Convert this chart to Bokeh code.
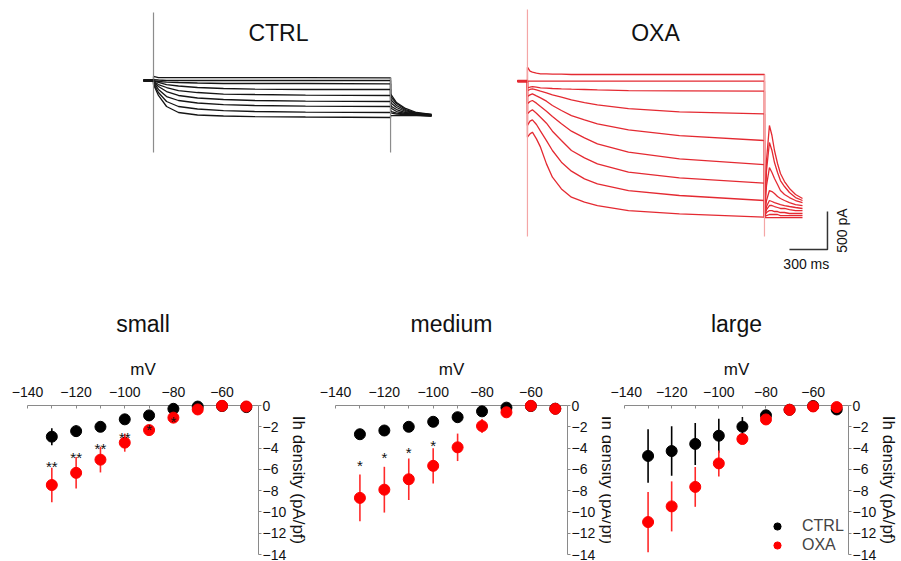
from bokeh.plotting import figure
from bokeh.models import ColumnDataSource, Label, FixedTicker, Legend, LegendItem, Range1d
from bokeh.layouts import row, column
from bokeh.embed import file_html
from bokeh.resources import INLINE
from bokeh.core.properties import value
import math

FONT = "Liberation Sans"

# ---------------- current traces (time in ms, current in pA) ----------------
hold_t = [-79, 0]
ctrl_hold = 0
oxa_hold = -9
ctrl_step_t = [0, 39, 103, 197, 347, 552, 797, 1199, 1870]
ctrl_tail_t = [1870, 1878, 1917, 1988, 2075, 2193]
oxa_step_t = [0, 20, 39, 71, 103, 150, 197, 268, 347, 450, 552, 797, 1199, 1870]
oxa_tail_t = [1870, 1886, 1909, 1929, 1949, 1973, 1996, 2028, 2067, 2115, 2170]

ctrl_step = [
    [53, 39, 39, 39, 39, 39, 39, 39, 36],
    [13, 7, 0, 0, 0, 0, 0, 0, 0],
    [0, -13, -20, -26, -33, -39, -39, -39, -43],
    [-7, -26, -53, -72, -92, -105, -112, -118, -118],
    [-13, -53, -92, -132, -158, -178, -184, -191, -197],
    [-20, -79, -145, -197, -230, -250, -263, -270, -276],
    [-26, -118, -211, -263, -296, -316, -329, -336, -342],
    [-39, -158, -276, -342, -375, -395, -408, -415, -421],
    [-53, -197, -342, -421, -454, -467, -474, -480, -487],
]
ctrl_tail = [
    [-171, -197, -290, -368, -421, -447],
    [-197, -224, -303, -382, -428, -447],
    [-237, -263, -329, -395, -434, -454],
    [-276, -303, -355, -408, -434, -454],
    [-316, -342, -382, -421, -441, -461],
    [-355, -368, -408, -434, -447, -461],
    [-395, -408, -428, -441, -454, -461],
    [-421, -428, -441, -447, -454, -467],
    [-461, -461, -461, -461, -461, -467],
]
oxa_step = [
    [175, 123, 110, 97, 88, 88, 83, 83, 79, 79, 79, 79, 79, 79],
    [-9, -9, -9, -9, -9, -9, -9, -9, -9, -9, -9, -9, -9, -9],
    [-97, -88, -79, -88, -97, -101, -105, -110, -114, -118, -123, -132, -136, -140],
    [-132, -118, -110, -123, -140, -162, -189, -219, -254, -290, -320, -369, -412, -439],
    [-211, -189, -175, -202, -228, -272, -329, -395, -461, -518, -570, -649, -724, -790],
    [-307, -276, -263, -298, -342, -404, -474, -570, -667, -755, -834, -943, -1031, -1106],
    [-439, -404, -386, -430, -483, -562, -667, -790, -921, -1018, -1097, -1206, -1281, -1351],
    [-592, -535, -518, -579, -667, -790, -921, -1075, -1193, -1294, -1360, -1448, -1513, -1579],
    [-746, -702, -680, -768, -877, -1097, -1272, -1426, -1535, -1601, -1645, -1711, -1755, -1799],
]
oxa_tail = [
    [-1803, -1803, -1803, -1803, -1803, -1803, -1803, -1803, -1803, -1803, -1803],
    [-1790, -1777, -1763, -1763, -1763, -1763, -1777, -1777, -1777, -1777, -1777],
    [-1790, -1737, -1711, -1711, -1724, -1724, -1737, -1737, -1750, -1750, -1750],
    [-1790, -1698, -1645, -1645, -1658, -1671, -1684, -1684, -1698, -1711, -1711],
    [-1790, -1658, -1579, -1592, -1606, -1619, -1632, -1645, -1658, -1671, -1684],
    [-1790, -1579, -1448, -1461, -1487, -1527, -1553, -1579, -1606, -1632, -1645],
    [-1790, -1382, -1145, -1211, -1290, -1369, -1448, -1500, -1540, -1579, -1606],
    [-1790, -1184, -816, -921, -1079, -1211, -1316, -1395, -1474, -1540, -1579],
    [-1790, -1053, -592, -724, -921, -1092, -1224, -1329, -1421, -1500, -1553],
]
# capacitive artifacts at step on/off
art_t = [0, 1870]
ctrl_art_top = [895, 39]
ctrl_art_bot = [-947, -947]
oxa_art_top = [934, 79]
oxa_art_bot = [-2053, -2053]
# scale bar
scale_ms = 300
scale_pA = 500

# ---------------- I-V data ----------------
mv = [-130, -120, -110, -100, -90, -80, -70, -60, -50]

small_ctrl = [-2.93, -2.41, -2.0, -1.3, -0.93, -0.31, -0.1, -0.05, -0.15]
small_ctrl_err = [0.8, 0.52, 0.25, 0.25, 0.2, 0.15, 0.1, 0.1, 0.1]
small_oxa = [-7.47, -6.33, -5.09, -3.49, -2.31, -1.14, -0.37, -0.03, -0.09]
small_oxa_err = [1.62, 1.48, 1.2, 0.85, 0.3, 0.25, 0.15, 0.1, 0.1]
small_star_x = [-130, -120, -110, -100, -90, -80]
small_star_y = [-5.35, -4.5, -3.65, -2.6, -1.85, -1.1]
small_star_t = ["**", "**", "**", "**", "*", "*"]

medium_ctrl = [-2.7, -2.35, -2.0, -1.53, -1.1, -0.55, -0.2, -0.05, -0.3]
medium_ctrl_err = [0.35, 0.3, 0.25, 0.25, 0.2, 0.2, 0.15, 0.1, 0.1]
medium_oxa = [-8.68, -7.91, -6.93, -5.67, -3.93, -1.93, -0.64, -0.03, -0.31]
medium_oxa_err = [2.19, 2.15, 1.95, 1.66, 1.29, 0.66, 0.2, 0.1, 0.1]
medium_star_x = [-130, -120, -110, -100]
medium_star_y = [-5.3, -4.48, -4.08, -3.37]
medium_star_t = ["*", "*", "*", "*"]

large_ctrl = [-4.74, -4.28, -3.61, -2.84, -1.99, -0.92, -0.4, -0.05, -0.37]
large_ctrl_err = [2.52, 2.32, 1.97, 1.6, 0.92, 0.3, 0.15, 0.15, 0.15]
large_oxa = [-10.95, -9.48, -7.65, -5.44, -3.15, -1.31, -0.4, -0.09, -0.15]
large_oxa_err = [2.83, 2.35, 1.87, 1.22, 0.3, 0.3, 0.1, 0.1, 0.1]

x_major = [-140, -120, -100, -80, -60]
x_minor = [-130, -110, -90, -70, -50]
y_ticks = [0, -2, -4, -6, -8, -10, -12, -14]

BLACK = "#000000"
RED = "#ff0000"
AXIS = "#8a8a8a"

TOP_H = 288
BOT_H = 273


def trace_fig(width, x0, x1, title, title_t, color, step, step_t, tail, tail_t, hold,
              art_top, art_bot, art_color):
    p = figure(width=width, height=TOP_H, x_range=Range1d(x0, x1),
               y_range=Range1d(-2737, 1053), output_backend="svg",
               toolbar_location=None, x_axis_location=None, y_axis_location=None,
               min_border=0)
    p.outline_line_color = None
    p.grid.visible = False
    xs, ys = [], []
    for s, tl in zip(step, tail):
        xs.append(hold_t + step_t + tail_t)
        ys.append([hold, hold] + s + tl)
    p.multi_line(xs, ys, line_color=color, line_width=1.3)
    p.segment(x0=art_t, y0=art_bot, x1=art_t, y1=art_top, line_color=art_color,
              line_width=1.2)
    p.line(hold_t, [hold, hold], line_color=color, line_width=3)
    p.add_layout(Label(x=title_t, y=619, text=title, text_font=FONT,
                       text_font_size="23px", text_align="center",
                       text_baseline="middle", text_color="#111111"))
    return p


ctrl_fig = trace_fig(458, -1207, 2406, "CTRL", 986, "#151515", ctrl_step, ctrl_step_t,
                     ctrl_tail, ctrl_tail_t, ctrl_hold, ctrl_art_top, ctrl_art_bot,
                     "#8c8c8c")
oxa_fig = trace_fig(443, -544, 2951, "OXA", 1010, "#e42a32", oxa_step, oxa_step_t,
                    oxa_tail, oxa_tail_t, oxa_hold, oxa_art_top, oxa_art_bot,
                    "#f4a6a6")
# scale bar
sb_x = 2367
sb_y = -2224
oxa_fig.line([sb_x - scale_ms, sb_x, sb_x], [sb_y, sb_y, sb_y + scale_pA],
             line_color="#333333", line_width=1.5)
oxa_fig.add_layout(Label(x=sb_x - scale_ms / 2 - 17, y=sb_y - 197, text="300 ms",
                         text_font=FONT, text_font_size="14px", text_align="center",
                         text_baseline="middle", text_color="#111111"))
oxa_fig.add_layout(Label(x=sb_x + 118, y=sb_y + scale_pA / 2, text="500 pA",
                         text_font=FONT, text_font_size="14px", text_align="center",
                         text_baseline="middle", angle=math.pi / 2,
                         text_color="#111111"))


def iv_fig(width, left, title, ctrl, ctrl_err, oxa, oxa_err,
           star_x=None, star_y=None, star_t=None, legend=False):
    p = figure(width=width, height=BOT_H, x_range=Range1d(-140, -45),
               y_range=Range1d(-14, 0), x_axis_location="above",
               y_axis_location="right", output_backend="svg",
               toolbar_location=None, min_border_left=left, min_border_right=52,
               min_border_top=100, min_border_bottom=7)
    p.outline_line_color = None
    p.grid.visible = False
    p.title.text = title
    p.title.align = "center"
    p.title.text_font = FONT
    p.title.text_font_size = "23px"
    p.title.text_font_style = "normal"
    p.title.text_color = "#111111"
    p.title.standoff = 40

    xa = p.xaxis[0]
    xa.ticker = FixedTicker(ticks=x_major, minor_ticks=x_minor)
    xa.axis_label = "mV"
    xa.axis_label_text_font = FONT
    xa.axis_label_text_font_size = "17px"
    xa.axis_label_text_font_style = "normal"
    xa.axis_label_standoff = 5
    xa.major_label_text_font = FONT
    xa.major_label_text_font_size = "14px"
    xa.major_label_standoff = 9
    xa.major_tick_in = 3
    xa.major_tick_out = 0
    xa.minor_tick_in = 3
    xa.minor_tick_out = 0
    xa.axis_line_color = AXIS
    xa.major_tick_line_color = AXIS
    xa.minor_tick_line_color = AXIS

    ya = p.yaxis[0]
    ya.ticker = FixedTicker(ticks=y_ticks)
    ya.axis_label = "Ih density (pA/pf)"
    ya.axis_label_text_font = FONT
    ya.axis_label_text_font_size = "17px"
    ya.axis_label_text_font_style = "normal"
    ya.axis_label_standoff = 0
    ya.major_label_text_font = FONT
    ya.major_label_text_font_size = "14px"
    ya.major_label_standoff = 1
    ya.major_tick_in = 0
    ya.major_tick_out = 3
    ya.minor_tick_line_color = None
    ya.axis_line_color = AXIS
    ya.major_tick_line_color = AXIS
    for ax in (xa, ya):
        ax.major_label_text_color = "#111111"
        ax.axis_label_text_color = "#111111"

    src_c = ColumnDataSource(dict(x=mv, y=ctrl,
                                  lo=[a - e for a, e in zip(ctrl, ctrl_err)],
                                  hi=[a + e for a, e in zip(ctrl, ctrl_err)]))
    src_o = ColumnDataSource(dict(x=mv, y=oxa,
                                  lo=[a - e for a, e in zip(oxa, oxa_err)],
                                  hi=[a + e for a, e in zip(oxa, oxa_err)]))
    p.segment(x0="x", y0="lo", x1="x", y1="hi", source=src_c, line_color=BLACK,
              line_width=1.6)
    rc = p.scatter("x", "y", source=src_c, size=11, fill_color=BLACK,
                   line_color=BLACK, level="overlay")
    p.segment(x0="x", y0="lo", x1="x", y1="hi", source=src_o, line_color="#ff2a2a",
              line_width=1.6, level="overlay")
    ro = p.scatter("x", "y", source=src_o, size=11, fill_color=RED,
                   line_color=RED, level="overlay")
    if star_x:
        p.text(x=star_x, y=star_y, text=star_t, text_font=value(FONT),
               text_font_size="15px", text_align="center", text_baseline="middle",
               y_offset=4, text_color="#111111", level="overlay")
    if legend:
        lg = Legend(items=[LegendItem(label="CTRL", renderers=[rc]),
                           LegendItem(label="OXA", renderers=[ro])],
                    location=(143, 0), margin=0, padding=0, spacing=1,
                    glyph_width=20, glyph_height=18, label_height=18,
                    label_standoff=15, label_text_font=FONT,
                    label_text_font_size="16px", border_line_color=None,
                    background_fill_alpha=0)
        p.add_layout(lg)
    return p


small = iv_fig(311, 27, "small", small_ctrl, small_ctrl_err, small_oxa, small_oxa_err,
               small_star_x, small_star_y, small_star_t)
medium = iv_fig(309, 24, "medium", medium_ctrl, medium_ctrl_err, medium_oxa,
                medium_oxa_err, medium_star_x, medium_star_y, medium_star_t)
large = iv_fig(291, 14, "large", large_ctrl, large_ctrl_err, large_oxa, large_oxa_err,
               legend=True)
large.margin = (0, 0, 0, -10)

layout = column(row(ctrl_fig, oxa_fig), row(small, medium, large))

with open("out.html", "w") as f:
    f.write(file_html(layout, INLINE))
